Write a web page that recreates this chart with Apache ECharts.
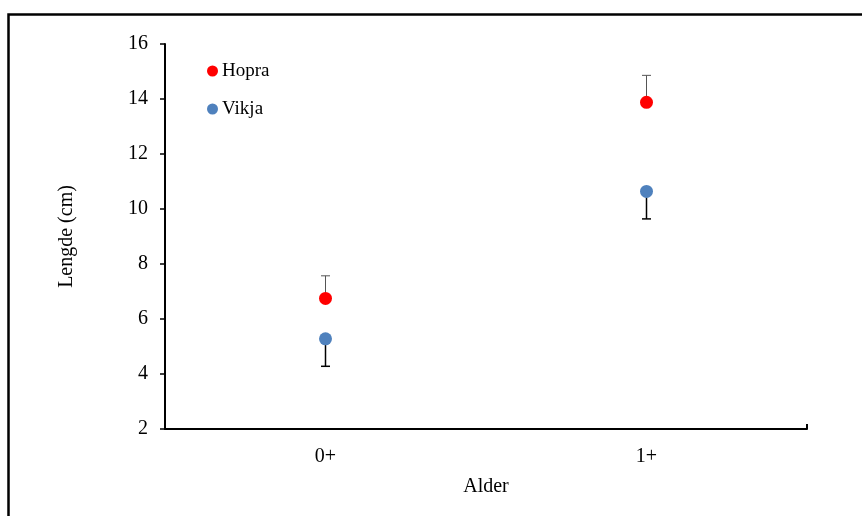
<!DOCTYPE html>
<html><head><meta charset="utf-8">
<script src="https://cdn.jsdelivr.net/npm/echarts@6/dist/echarts.min.js"></script>
<style>html,body{margin:0;padding:0;background:#fff}#c{width:862px;height:516px}</style>
</head><body><div id="c"></div>
<script>
var categories = ['0+', '1+'];
var hopraMean = [6.75, 13.88];
var hopraErrUp = [0.82, 0.98];
var vikjaMean = [5.28, 10.64];
var vikjaErrDown = [1.0, 1.0];
var yTicks = [2, 4, 6, 8, 10, 12, 14, 16];

var font = 'Liberation Serif, Times New Roman, serif';
var chart = echarts.init(document.getElementById('c'), null, {renderer: 'canvas'});

function errSeries(mean, err, dir, color, width) {
  var data = mean.map(function (m, i) { return [i, m, dir > 0 ? m + err[i] : m - err[i]]; });
  return {
    type: 'custom', xAxisIndex: 0, yAxisIndex: 0, silent: true, z: 1,
    data: data,
    renderItem: function (params, api) {
      var p0 = api.coord([api.value(0), api.value(1)]);
      var p1 = api.coord([api.value(0), api.value(2)]);
      var hw = 4.5;
      return {
        type: 'group',
        children: [
          {type: 'line', shape: {x1: p0[0], y1: p0[1], x2: p1[0], y2: p1[1]}, style: {stroke: color, lineWidth: width}},
          {type: 'line', shape: {x1: p1[0] - hw, y1: p1[1], x2: p1[0] + hw, y2: p1[1]}, style: {stroke: color, lineWidth: width}}
        ]
      };
    }
  };
}

chart.setOption({
  animation: false,
  textStyle: {fontFamily: font},
  graphic: [{
    type: 'rect', left: 6, top: 12, silent: true,
    shape: {width: 900, height: 600},
    style: {fill: 'none', stroke: '#000', lineWidth: 2.5}
  }],
  grid: {left: 165, top: 44, right: 55, bottom: 87},
  legend: {
    orient: 'vertical', left: 202, top: 56, itemGap: 18,
    itemWidth: 11, itemHeight: 11, icon: 'circle',
    textStyle: {fontFamily: font, fontSize: 19, lineHeight: 20, color: '#000', padding: [0, 0, 0, -1]},
    data: ['Hopra', 'Vikja']
  },
  xAxis: [{
    type: 'category', data: categories, boundaryGap: true,
    name: 'Alder', nameLocation: 'middle', nameGap: 48,
    nameTextStyle: {fontFamily: font, fontSize: 20, color: '#000'},
    axisLine: {lineStyle: {color: '#000', width: 2}},
    axisTick: {alignWithLabel: true, inside: true, length: 5, lineStyle: {color: '#000', width: 1.5}},
    axisLabel: {fontFamily: font, fontSize: 20, color: '#000', margin: 18},
    splitLine: {show: false}
  }, {
    type: 'value', position: 'bottom', min: 0, max: 1, interval: 1,
    axisLine: {show: false}, axisLabel: {show: false}, splitLine: {show: false},
    axisTick: {inside: true, length: 5, lineStyle: {color: '#000', width: 2}}
  }],
  yAxis: {
    type: 'value', min: yTicks[0], max: yTicks[yTicks.length - 1], interval: 2,
    name: 'Lengde (cm)', nameLocation: 'middle', nameGap: 88,
    nameTextStyle: {fontFamily: font, fontSize: 20, color: '#000'},
    axisLine: {show: true, lineStyle: {color: '#000', width: 2}},
    axisTick: {show: true, length: 5, lineStyle: {color: '#000', width: 1.5}},
    axisLabel: {fontFamily: font, fontSize: 20, color: '#000', margin: 17},
    splitLine: {show: false}
  },
  series: [
    errSeries(hopraMean, hopraErrUp, 1, '#555', 1),
    errSeries(vikjaMean, vikjaErrDown, -1, '#000', 1.5),
    {name: 'Hopra', type: 'scatter', data: hopraMean, symbolSize: 13, itemStyle: {color: '#ff0000', opacity: 1}, z: 3},
    {name: 'Vikja', type: 'scatter', data: vikjaMean, symbolSize: 13, itemStyle: {color: '#4f81bd', opacity: 1}, z: 3}
  ]
});
</script></body></html>
